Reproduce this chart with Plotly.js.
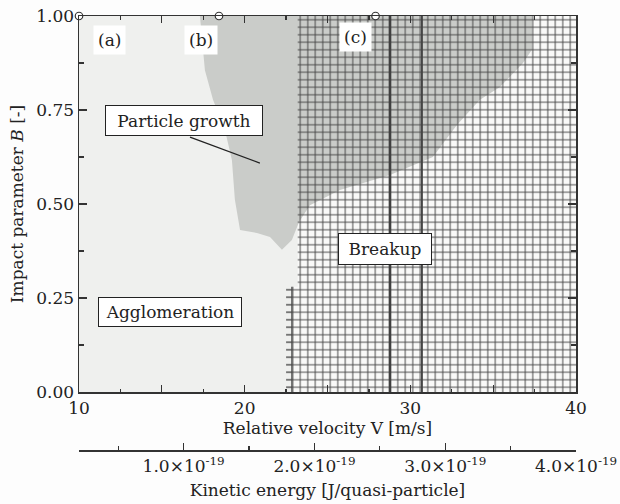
<!DOCTYPE html>
<html>
<head>
<meta charset="utf-8">
<script src="https://cdn.plot.ly/plotly-3.0.1.min.js"></script>
<style>html,body{margin:0;padding:0;background:#fdfdfd;}</style>
</head>
<body>
<div id="chart" style="width:620px;height:504px;"></div>
<script>
// ---- data (velocity V [m/s], impact parameter B [-]) ----
const breakupEdgeV = [23.2, 23.2, 22.85, 22.85];
const breakupEdgeB = [1.0, 0.28, 0.28, 0.0];
const stubV = [22.5, 22.85, 22.85, 22.5];
const stubB = [0.0, 0.0, 0.28, 0.28];
const growthV = [17.30, 17.42, 17.60, 18.09, 18.81, 19.23, 19.41, 19.72, 20.74, 21.53, 22.25, 22.85,
                 23.28, 23.94, 25.75, 28.77, 31.36, 32.81, 34.20, 35.41, 36.80, 37.34, 37.34];
const growthB = [1.00, 0.936, 0.856, 0.777, 0.697, 0.617, 0.511, 0.431, 0.423, 0.412, 0.378, 0.404,
                 0.452, 0.497, 0.537, 0.577, 0.625, 0.710, 0.777, 0.811, 0.875, 0.910, 1.00];
const heavyLineV = [28.77, 30.70];
const caseV = [10, 18.45, 27.9];
const caseB = [1, 1, 1];
const caseLabels = ['(a)', '(b)', '(c)'];
const leaderV = [16.70, 20.92];
const leaderB = [0.678, 0.609];
const vTicks = [10, 15, 20, 25, 30, 35, 40];
const vTickText = ['10', '', '20', '', '30', '', '40'];
const bTicks = [0, 0.25, 0.5, 0.75, 1.0];
const bTickText = ['0.00', '0.25', '0.50', '0.75', '1.00'];
const keTicks = [1.0e-19, 2.0e-19, 3.0e-19, 4.0e-19];
const keTickText = ['1.0×10<sup>-19</sup>', '2.0×10<sup>-19</sup>', '3.0×10<sup>-19</sup>', '4.0×10<sup>-19</sup>'];
const keRange = [0.2e-19, 4.0e-19];
const regionLabels = ['Particle growth', 'Agglomeration', 'Breakup'];
const regionLabelV = [16.34, 15.49, 28.47];
const regionLabelB = [0.721, 0.213, 0.380];

// ---- build traces ----
const FONT = 'DejaVu Serif';
const INK = '#222222';
const GRID = '#454545';

const agglomV = [10].concat(breakupEdgeV, [10]);
const agglomB = [1.0].concat(breakupEdgeB, [0.0]);
const breakV = breakupEdgeV.concat([40, 40]);
const breakB = breakupEdgeB.concat([0, 1]);

const traces = [
  { x: agglomV, y: agglomB, type: 'scatter', mode: 'lines', fill: 'toself',
    fillcolor: '#eff0ee', line: { width: 0 }, hoverinfo: 'skip', showlegend: false },
  { x: growthV, y: growthB, type: 'scatter', mode: 'lines', fill: 'toself',
    fillcolor: '#caccc9', line: { width: 0 }, hoverinfo: 'skip', showlegend: false },
  { x: breakV, y: breakB, type: 'scatter', mode: 'lines', fill: 'toself',
    fillcolor: 'rgba(0,0,0,0)',
    fillpattern: { shape: '+', size: 7.5, solidity: 0.24, fgcolor: GRID, bgcolor: 'rgba(0,0,0,0)' },
    line: { width: 0 }, hoverinfo: 'skip', showlegend: false },
  { x: stubV, y: stubB, type: 'scatter', mode: 'lines', fill: 'toself',
    fillcolor: 'rgba(0,0,0,0)',
    fillpattern: { shape: '-', size: 7.5, solidity: 0.18, fgcolor: GRID, bgcolor: 'rgba(0,0,0,0)' },
    line: { width: 0 }, hoverinfo: 'skip', showlegend: false },
  { x: [breakupEdgeV[2], breakupEdgeV[3]], y: [breakupEdgeB[2], breakupEdgeB[3]], type: 'scatter', mode: 'lines',
    line: { color: GRID, width: 1.2 }, hoverinfo: 'skip', showlegend: false },
  { x: [heavyLineV[0], heavyLineV[0]], y: [0, 1], type: 'scatter', mode: 'lines',
    line: { color: '#404040', width: 2.6 }, hoverinfo: 'skip', showlegend: false },
  { x: [heavyLineV[1], heavyLineV[1]], y: [0, 1], type: 'scatter', mode: 'lines',
    line: { color: '#454545', width: 1.9 }, hoverinfo: 'skip', showlegend: false },
  { x: leaderV, y: leaderB, type: 'scatter', mode: 'lines',
    line: { color: '#222', width: 1.3 }, hoverinfo: 'skip', showlegend: false },
  { x: caseV, y: caseB, type: 'scatter', mode: 'markers', cliponaxis: false,
    marker: { symbol: 'circle', size: 7.5, color: '#ffffff', line: { color: '#333', width: 1.2 } },
    hoverinfo: 'skip', showlegend: false },
  { x: keRange, y: [0, 0], xaxis: 'x2', yaxis: 'y', type: 'scatter', mode: 'markers',
    marker: { opacity: 0 }, hoverinfo: 'skip', showlegend: false }
];

// ---- annotations ----
const annotations = [];
const caseLabelV = [11.87, 17.36, 26.66];
const caseLabelB = [0.936, 0.936, 0.944];
caseLabels.forEach((t, i) => annotations.push({
  x: caseLabelV[i], y: caseLabelB[i], xref: 'x', yref: 'y', text: t, showarrow: false,
  bgcolor: '#ffffff', borderpad: 4, font: { family: FONT, size: 17, color: INK }
}));
const boxW = [150, 136, 86];
const boxH = [23, 22, 24];
regionLabels.forEach((t, i) => annotations.push({
  x: regionLabelV[i], y: regionLabelB[i], xref: 'x', yref: 'y', text: t, showarrow: false,
  bgcolor: '#ffffff', bordercolor: '#222', borderwidth: 1, borderpad: 3,
  width: boxW[i], height: boxH[i],
  font: { family: FONT, size: 17, color: INK }
}));

const axisCommon = {
  showgrid: false, zeroline: false, showline: true, linecolor: '#333', linewidth: 1.5,
  ticks: 'inside', tickcolor: '#333', tickwidth: 1.3,
  tickfont: { family: FONT, size: 17, color: INK }
};

const layout = {
  width: 620, height: 504,
  margin: { l: 79, r: 44, t: 16, b: 54 },
  paper_bgcolor: '#fdfdfd', plot_bgcolor: '#f9f9f8',
  showlegend: false,
  xaxis: Object.assign({}, axisCommon, {
    domain: [0, 1], range: [10, 40], anchor: 'y', mirror: 'ticks',
    tickmode: 'array', tickvals: vTicks, ticktext: vTickText, ticklen: 7,
    minor: { tickmode: 'linear', tick0: 10, dtick: 2.5, ticks: 'inside', ticklen: 3.5, tickcolor: '#333', tickwidth: 1.2 },
    title: { text: 'Relative velocity V [m/s]', font: { family: FONT, size: 17, color: INK }, standoff: 4 }
  }),
  yaxis: Object.assign({}, axisCommon, {
    domain: [0.13364, 1], range: [0, 1], anchor: 'x', mirror: 'ticks',
    tickmode: 'array', tickvals: bTicks, ticktext: bTickText, ticklen: 8,
    minor: { tickmode: 'linear', tick0: 0, dtick: 0.125, ticks: 'inside', ticklen: 5, tickcolor: '#333', tickwidth: 1.2 },
    title: { text: 'Impact parameter <i>B</i> [-]', font: { family: FONT, size: 17, color: INK }, standoff: 8 }
  }),
  xaxis2: Object.assign({}, axisCommon, {
    overlaying: 'x', anchor: 'free', position: 0, side: 'bottom', range: keRange,
    tickmode: 'array', tickvals: keTicks, ticktext: keTickText, ticklen: 7,
    minor: { tickmode: 'linear', tick0: 0, dtick: 0.5e-19, ticks: 'inside', ticklen: 4, tickcolor: '#333', tickwidth: 1.2 },
    title: { text: 'Kinetic energy [J/quasi-particle]', font: { family: FONT, size: 17, color: INK }, standoff: 9 }
  }),
  annotations: annotations
};

Plotly.newPlot('chart', traces, layout, { displayModeBar: false, staticPlot: true });
</script>
</body>
</html>
